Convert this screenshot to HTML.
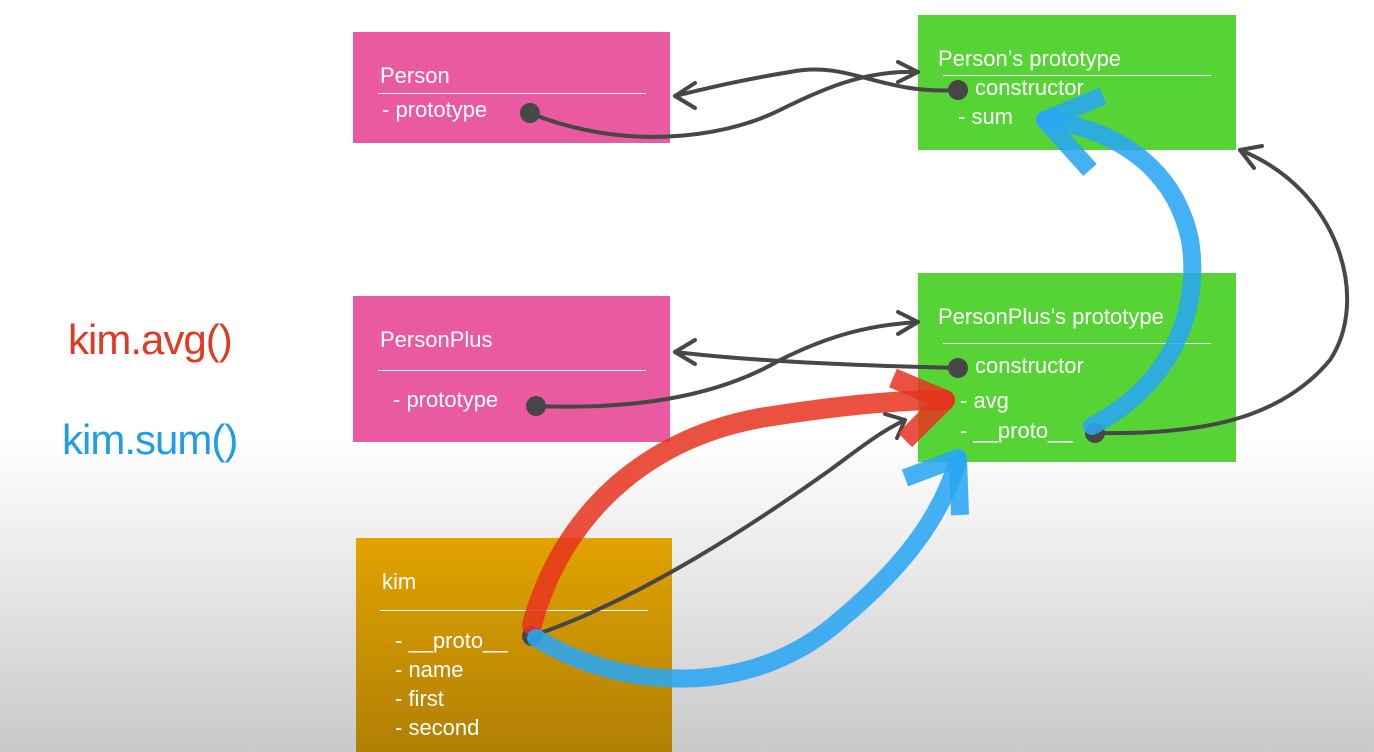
<!DOCTYPE html>
<html><head><meta charset="utf-8"><style>
body{margin:0;width:1374px;height:752px;overflow:hidden;font-family:"Liberation Sans",sans-serif;background:linear-gradient(#fff 0,#fff 440px,#c9c9c9 752px);position:relative}
.b{position:absolute;color:#fff;font-size:21px}
.t{position:absolute;color:#fff;font-size:22px;white-space:nowrap}
.l{position:absolute;height:1px;background:#fff}
</style></head><body>
<div class="b" style="left:353px;top:32px;width:317px;height:111px;background:#ea5aa0"></div>
<div class="b" style="left:918px;top:15px;width:318px;height:135px;background:#56d435"></div>
<div class="b" style="left:353px;top:296px;width:317px;height:146px;background:#ea5aa0"></div>
<div class="b" style="left:918px;top:273px;width:318px;height:189px;background:#56d435"></div>
<div class="b" style="left:356px;top:538px;width:316px;height:214px;background:linear-gradient(#e2a300,#b07f05)"></div>

<div class="t" style="left:380px;top:63px">Person</div>
<div class="l" style="left:378px;top:93px;width:268px"></div>
<div class="t" style="left:382px;top:97px">- prototype</div>

<div class="t" style="left:938px;top:46px">Person’s prototype</div>
<div class="l" style="left:943px;top:75px;width:268px"></div>
<div class="t" style="left:975px;top:75px">constructor</div>
<div class="t" style="left:958px;top:104px">- sum</div>

<div class="t" style="left:380px;top:327px">PersonPlus</div>
<div class="l" style="left:378px;top:370px;width:268px"></div>
<div class="t" style="left:393px;top:387px">- prototype</div>

<div class="t" style="left:938px;top:304px">PersonPlus’s prototype</div>
<div class="l" style="left:943px;top:343px;width:268px"></div>
<div class="t" style="left:975px;top:353px">constructor</div>
<div class="t" style="left:960px;top:388px">- avg</div>
<div class="t" style="left:960px;top:418px">- __proto__</div>

<div class="t" style="left:382px;top:569px">kim</div>
<div class="l" style="left:380px;top:610px;width:268px"></div>
<div class="t" style="left:395px;top:628px">- __proto__</div>
<div class="t" style="left:395px;top:657px">- name</div>
<div class="t" style="left:395px;top:686px">- first</div>
<div class="t" style="left:395px;top:715px">- second</div>

<div class="t" style="left:68px;top:316px;font-size:42px;color:#e03a24;letter-spacing:-1px">kim.avg()</div>
<div class="t" style="left:62px;top:416px;font-size:42px;color:#1c9ee8;letter-spacing:-1px">kim.sum()</div>

<svg width="1374" height="752" style="position:absolute;left:0;top:0" fill="none" stroke-linecap="round" stroke-linejoin="round">
<g stroke="#474747" stroke-width="4">
<path d="M530 113 C620 150 720 140 780 110 C830 85 870 70 918 72"/>
<path d="M898 62 L918 72 L898 82"/>
<path d="M958 90 C880 95 850 60 790 72 C740 80 700 90 675 96"/>
<path d="M695 83 L675 96 L695 108"/>
<path d="M536 406 C640 410 720 395 780 360 C830 335 870 325 918 322"/>
<path d="M898 312 L918 322 L898 334"/>
<path d="M958 368 C870 366 760 362 675 352"/>
<path d="M695 340 L675 352 L695 364"/>
<path d="M1095 433 C1200 435 1280 420 1330 360 C1370 300 1340 190 1240 150"/>
<path d="M1262 146 L1240 150 L1254 168"/>
<path d="M532 636 C640 600 760 520 830 470 C860 448 880 432 905 420"/>
<path d="M885 414 L905 420 L897 438"/>
</g>
<g fill="#474747" stroke="none">
<circle cx="530" cy="113" r="10"/><circle cx="958" cy="90" r="10"/>
<circle cx="536" cy="406" r="10"/><circle cx="958" cy="368" r="10"/>
<circle cx="1095" cy="433" r="10"/><circle cx="532" cy="636" r="10"/>
</g>
<g stroke="#e8331f" stroke-width="20" stroke-opacity="0.85">
<path d="M532 625 C560 520 640 440 760 418 C840 405 900 400 945 400"/>
<path d="M893 378 L945 400 L905 440" stroke-linecap="butt"/>
</g>
<g stroke="#29a6f2" stroke-width="18" stroke-opacity="0.88">
<path d="M536 638 C620 690 750 700 840 620 C900 570 940 520 958 460"/>
<path d="M905 478 L958 458 L960 515" stroke-linecap="butt"/>
<path d="M1092 426 C1180 380 1200 300 1190 240 C1175 170 1120 130 1045 120"/>
<path d="M1103 96 L1045 120 L1090 170" stroke-linecap="butt"/>
</g>
</svg>
</body></html>
